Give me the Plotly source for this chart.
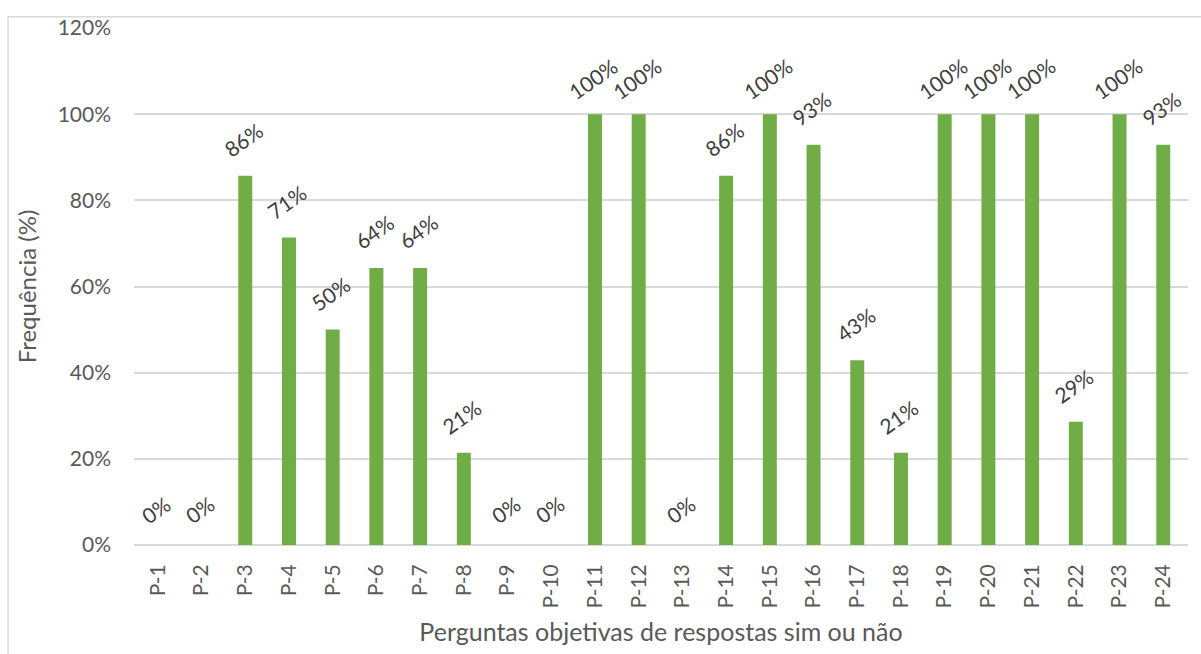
import plotly.graph_objects as go

categories = [f"P-{i}" for i in range(1, 25)]
values = [0, 0, 85.7, 71.4, 50.0, 64.3, 64.3, 21.4, 0, 0, 100, 100, 0,
          85.7, 100, 92.9, 42.9, 21.4, 100, 100, 100, 28.6, 100, 92.9]
labels = [f"{round(v)}%" for v in values]
y_ticks = [0, 20, 40, 60, 80, 100, 120]
y_ticktext = [f"{t}%" for t in y_ticks]

FONT = "Lato"
fig = go.Figure()
fig.add_trace(go.Bar(x=categories, y=values, marker=dict(color="#70AD47", line=dict(width=0)),
                     width=0.32, showlegend=False, hoverinfo="x+y"))

for c, v, t in zip(categories, values, labels):
    fig.add_annotation(x=c, y=v, text=t, showarrow=False, textangle=-35,
                       yshift=36, xshift=-2, font=dict(family=FONT, size=21, color="#404040"))

fig.add_shape(type="rect", xref="paper", yref="paper", x0=-0.1195, x1=1.1, y0=-0.4, y1=1.022,
              line=dict(color="#D9D9D9", width=1.5), fillcolor="rgba(0,0,0,0)", layer="below")

fig.update_layout(
    width=1201, height=654,
    margin=dict(l=134, r=13, t=28, b=109),
    plot_bgcolor="white", paper_bgcolor="white",
    bargap=0.68,
    font=dict(family=FONT, color="#595959"),
    xaxis=dict(tickangle=-90, tickfont=dict(size=21, color="#595959"), showgrid=False,
               ticks="", showline=False, ticklabelstandoff=14,
               title=dict(text="Perguntas objetivas de respostas sim ou não",
                          font=dict(size=25, color="#595959"), standoff=16)),
    yaxis=dict(range=[0, 120], tickvals=y_ticks, ticktext=y_ticktext,
               tickfont=dict(size=21, color="#595959"), showgrid=True, gridcolor="#D9D9D9",
               gridwidth=1.6, zeroline=True, zerolinecolor="#D9D9D9", zerolinewidth=1.6,
               ticks="", ticklabelstandoff=22,
               title=dict(text="Frequência (%)", font=dict(size=24, color="#595959"), standoff=14)),
)

fig.write_html("out.html")
